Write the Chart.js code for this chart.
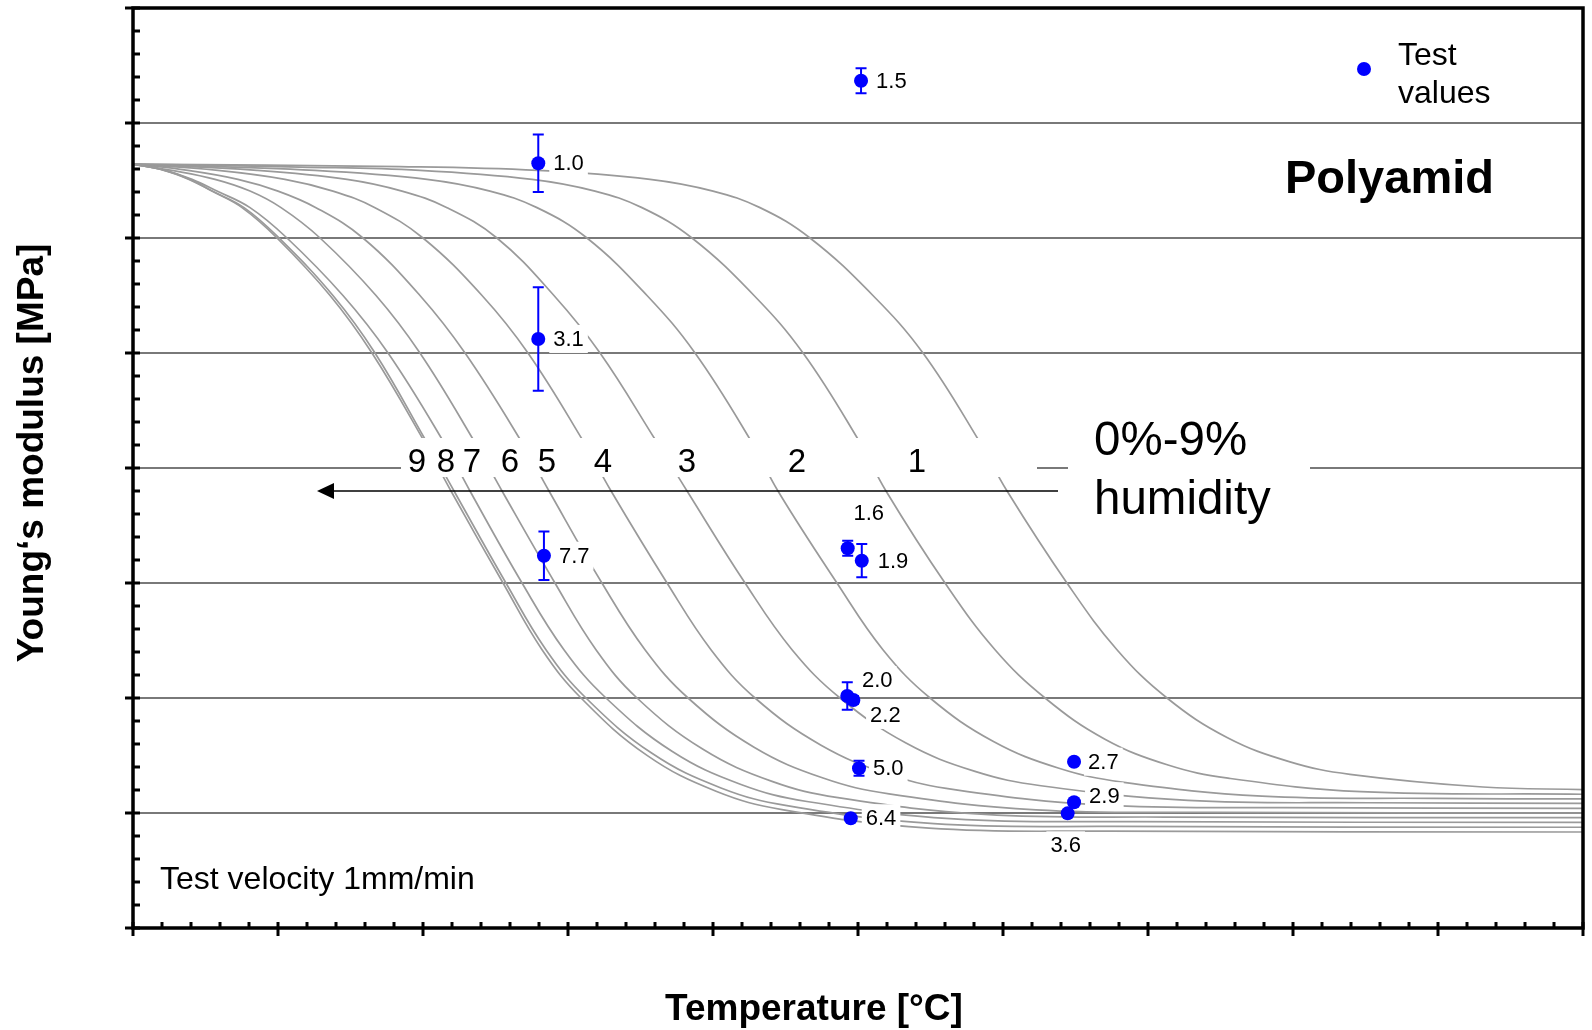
<!DOCTYPE html>
<html>
<head>
<meta charset="utf-8">
<script src="https://cdn.jsdelivr.net/npm/chart.js@4.4.1/dist/chart.umd.min.js"></script>
<style>
    html, body { margin: 0; padding: 0; background: #fff; }
    canvas { display: block; }
</style>
</head>
<body>
<canvas id="chart" width="1592" height="1030"></canvas>
<script>

//
// Data (x: 0..10 major divisions, y: 0..8 major divisions, no tick labels)
//

const curveNames = ["0%", "1%", "2%", "3%", "4%", "5%", "6%", "7%", "8%", "9%"];

const curve0 = [[0, 6.643], [1.841, 6.621], [2.793, 6.588], [3.566, 6.51], [4.0, 6.408], [4.324, 6.264], [4.669, 6.0], [5.103, 5.5], [5.448, 5.0], [5.828, 4.25], [6.028, 3.8], [6.441, 3.0], [6.786, 2.42], [7.131, 2.0], [7.545, 1.657], [7.979, 1.445], [8.393, 1.336], [9.31, 1.226], [10, 1.204]];
const curve1 = [[0, 6.643], [1.152, 6.617], [1.979, 6.588], [2.752, 6.51], [3.186, 6.408], [3.51, 6.264], [3.855, 6.0], [4.283, 5.5], [4.621, 5.0], [5.0, 4.25], [5.193, 3.8], [5.6, 3.0], [5.945, 2.42], [6.29, 2.0], [6.703, 1.642], [7.138, 1.417], [7.552, 1.303], [8.469, 1.186], [10, 1.163]];
const curve2 = [[0, 6.643], [1.255, 6.588], [2.028, 6.51], [2.462, 6.408], [2.786, 6.264], [3.131, 6.0], [3.545, 5.5], [3.876, 5.0], [4.255, 4.25], [4.448, 3.8], [4.855, 3.0], [5.172, 2.42], [5.497, 2.0], [5.931, 1.624], [6.386, 1.389], [6.821, 1.269], [7.786, 1.147], [8.972, 1.127], [10, 1.122]];
const curve3 = [[0, 6.643], [0.855, 6.588], [1.476, 6.51], [1.855, 6.408], [2.166, 6.264], [2.51, 6.0], [2.903, 5.5], [3.221, 5.0], [3.6, 4.25], [3.821, 3.8], [4.221, 3.0], [4.545, 2.42], [4.876, 2.0], [5.331, 1.608], [5.807, 1.362], [6.262, 1.237], [7.276, 1.11], [8.517, 1.089], [10, 1.084]];
const curve4 = [[0, 6.643], [0.586, 6.588], [1.048, 6.51], [1.379, 6.408], [1.669, 6.264], [2.0, 6.0], [2.407, 5.5], [2.724, 5.0], [3.097, 4.25], [3.297, 3.8], [3.683, 3.0], [3.986, 2.42], [4.29, 2.0], [4.745, 1.59], [5.221, 1.333], [5.676, 1.201], [6.69, 1.068], [7.931, 1.047], [10, 1.041]];
const curve5 = [[0, 6.643], [0.379, 6.588], [0.724, 6.51], [1.0, 6.408], [1.262, 6.264], [1.586, 6.0], [1.979, 5.5], [2.29, 5.0], [2.669, 4.25], [2.869, 3.8], [3.234, 3.0], [3.531, 2.42], [3.828, 2.0], [4.283, 1.572], [4.759, 1.304], [5.214, 1.167], [6.228, 1.028], [7.469, 1.006], [10, 1.0]];
const curve6 = [[0, 6.643], [0.269, 6.588], [0.566, 6.51], [0.807, 6.408], [1.021, 6.264], [1.29, 6.0], [1.676, 5.5], [1.979, 5.0], [2.345, 4.25], [2.545, 3.8], [2.91, 3.0], [3.193, 2.42], [3.476, 2.0], [3.931, 1.554], [4.407, 1.275], [4.862, 1.133], [5.876, 0.988], [7.117, 0.965], [10, 0.959]];
const curve7 = [[0, 6.643], [0.221, 6.588], [0.407, 6.51], [0.579, 6.408], [0.807, 6.264], [1.062, 6.0], [1.448, 5.5], [1.759, 5.0], [2.131, 4.25], [2.324, 3.8], [2.683, 3.0], [2.972, 2.42], [3.262, 2.0], [3.717, 1.537], [4.193, 1.248], [4.648, 1.1], [5.662, 0.949], [6.903, 0.925], [10, 0.919]];
const curve8 = [[0, 6.643], [0.214, 6.588], [0.386, 6.51], [0.545, 6.408], [0.766, 6.264], [1.007, 6.0], [1.379, 5.5], [1.669, 5.0], [2.014, 4.25], [2.214, 3.8], [2.572, 3.0], [2.848, 2.42], [3.124, 2.0], [3.579, 1.519], [4.055, 1.218], [4.51, 1.064], [5.524, 0.907], [6.766, 0.883], [10, 0.876]];
const curve9 = [[0, 6.643], [0.221, 6.588], [0.393, 6.51], [0.545, 6.408], [0.752, 6.264], [0.993, 6.0], [1.359, 5.5], [1.648, 5.0], [2.0, 4.25], [2.193, 3.8], [2.552, 3.0], [2.821, 2.42], [3.09, 2.0], [3.545, 1.501], [4.021, 1.189], [4.476, 1.03], [5.49, 0.868], [6.731, 0.842], [10, 0.835]];

const curves = [curve0, curve1, curve2, curve3, curve4, curve5, curve6, curve7, curve8, curve9];

const testX = [5.021, 2.795, 2.795, 2.834, 4.929, 5.026, 4.926, 4.968, 5.007, 4.950, 6.490, 6.490, 6.446];
const testY = [7.368, 6.650, 5.122, 3.237, 3.302, 3.194, 2.017, 1.983, 1.389, 0.954, 1.446, 1.093, 0.997];
const testErr = [0.109, 0.25, 0.45, 0.21, 0.065, 0.145, 0.119, 0.035, 0.065, 0, 0, 0, 0];
const testLabels = ["1.5", "1.0", "3.1", "7.7", "1.6", "1.9", "2.0", "2.2", "5.0", "6.4", "2.7", "2.9", "3.6"];

const bandNumbers = ["9", "8", "7", "6", "5", "4", "3", "2", "1"];

//
// Layout (pixels)
//

const FONT = "'Liberation Sans', Arial, sans-serif";

// [align, dx, dy] relative to the point
const labelPlacement = [
    ["left", 15, 0], ["left", 15, 0], ["left", 15, 0], ["left", 15, 0],
    ["center", 21, -35], ["left", 16, 0], ["center", 30, -16], ["center", 32, 15],
    ["left", 14, 0], ["left", 15, 0], ["left", 14, 0], ["left", 15, -6],
    ["center", -2, 32]
];

const bandNumberX = [417, 446, 472, 510, 547, 603, 687, 797, 917];

//
// Plugins
//

const gridPlugin = {
    id: "hGrid",

    beforeDatasetsDraw(chart) {
        const { ctx, chartArea: { left, right }, scales: { y } } = chart;
        ctx.save();
        ctx.strokeStyle = "#4d4d4d";
        ctx.lineWidth = 1.3;
        for (let v = 1; v < 8; v++) {
            const py = y.getPixelForValue(v);
            ctx.beginPath();
            ctx.moveTo(left, py);
            ctx.lineTo(right, py);
            ctx.stroke();
        }
        ctx.restore();
    }
};

function labelBox(ctx, i, px, py) {
    const [align, dx, dy] = labelPlacement[i];
    ctx.font = "22px " + FONT;
    const w = ctx.measureText(testLabels[i]).width;
    const x0 = align === "left" ? px + dx : px + dx - w / 2;
    return { x: x0, y: py + dy, w };
}

const boxesPlugin = {
    id: "whiteBoxes",

    // runs right before the test points, after all curves
    beforeDatasetDraw(chart, args) {
        if (args.index !== 0) return;

        const { ctx, scales: { x, y } } = chart;
        ctx.save();
        ctx.fillStyle = "#fff";

        // band with the humidity numbers and the big label
        ctx.fillRect(401, 438, 636, 39);
        ctx.fillRect(1068, 410, 242, 120);

        for (let i = 0; i < testX.length; i++) {
            const b = labelBox(ctx, i, x.getPixelForValue(testX[i]), y.getPixelForValue(testY[i]));
            ctx.fillStyle = "#fff";
            ctx.fillRect(b.x - 4, b.y - 14, b.w + 8, 28);
        }

        // error bars
        ctx.strokeStyle = "#0000ff";
        ctx.lineWidth = 2;
        for (let i = 0; i < testX.length; i++) {
            if (!testErr[i]) continue;
            const px = x.getPixelForValue(testX[i]);
            const top = y.getPixelForValue(testY[i] + testErr[i]);
            const bot = y.getPixelForValue(testY[i] - testErr[i]);
            ctx.beginPath();
            ctx.moveTo(px, top);
            ctx.lineTo(px, bot);
            ctx.moveTo(px - 5.5, top);
            ctx.lineTo(px + 5.5, top);
            ctx.moveTo(px - 5.5, bot);
            ctx.lineTo(px + 5.5, bot);
            ctx.stroke();
        }
        ctx.restore();
    }
};

const decorPlugin = {
    id: "decor",

    afterDraw(chart) {
        const { ctx, chartArea: { left, right, top, bottom }, scales: { x, y } } = chart;
        ctx.save();

        // frame and ticks
        ctx.strokeStyle = "#000";
        ctx.lineWidth = 3.5;
        ctx.strokeRect(left, top, right - left, bottom - top);

        ctx.lineWidth = 3;
        for (let k = 0; k <= 40; k++) {
            const py = y.getPixelForValue(k / 5);
            const major = k % 5 === 0;
            ctx.beginPath();
            ctx.moveTo(major ? left - 8 : left, py);
            ctx.lineTo(left + 7, py);
            ctx.stroke();
        }
        for (let k = 0; k <= 50; k++) {
            const px = x.getPixelForValue(k / 5);
            const major = k % 5 === 0;
            ctx.beginPath();
            ctx.moveTo(px, bottom - 6);
            ctx.lineTo(px, major ? bottom + 8 : bottom);
            ctx.stroke();
        }

        // value labels
        ctx.fillStyle = "#000";
        ctx.textBaseline = "middle";
        ctx.textAlign = "left";
        for (let i = 0; i < testX.length; i++) {
            const b = labelBox(ctx, i, x.getPixelForValue(testX[i]), y.getPixelForValue(testY[i]));
            ctx.fillText(testLabels[i], b.x, b.y + 1);
        }

        // humidity numbers and arrow
        ctx.font = "33px " + FONT;
        ctx.textAlign = "center";
        ctx.textBaseline = "alphabetic";
        bandNumbers.forEach((n, i) => ctx.fillText(n, bandNumberX[i], 472));

        ctx.lineWidth = 1.5;
        ctx.beginPath();
        ctx.moveTo(1058, 491);
        ctx.lineTo(330, 491);
        ctx.stroke();
        ctx.beginPath();
        ctx.moveTo(317, 491);
        ctx.lineTo(334, 483);
        ctx.lineTo(334, 499);
        ctx.closePath();
        ctx.fill();

        ctx.textAlign = "left";
        ctx.font = "47.5px " + FONT;
        ctx.fillText("0%-9%", 1094, 455);
        ctx.fillText("humidity", 1094, 514);

        ctx.font = "bold 47px " + FONT;
        ctx.fillText("Polyamid", 1285, 193);

        ctx.font = "32px " + FONT;
        ctx.fillText("Test velocity 1mm/min", 160, 889);

        // legend
        ctx.fillStyle = "#0000ff";
        ctx.beginPath();
        ctx.arc(1364, 69, 7, 0, Math.PI * 2);
        ctx.fill();
        ctx.fillStyle = "#000";
        ctx.font = "32px " + FONT;
        ctx.textBaseline = "middle";
        ctx.fillText("Test", 1398, 56);
        ctx.fillText("values", 1398, 94);

        // axis titles
        ctx.font = "bold 37px " + FONT;
        ctx.textAlign = "center";
        ctx.fillText("Temperature [°C]", 814, 1010);
        ctx.translate(33, 453);
        ctx.rotate(-Math.PI / 2);
        ctx.fillText("Young‘s modulus [MPa]", 0, 0);

        ctx.restore();
    }
};

//
// Chart
//

const datasets = [{
    label: "Test values",
    data: testX.map((v, i) => ({ x: v, y: testY[i] })),
    showLine: false,
    pointRadius: 7,
    pointBackgroundColor: "#0000ff",
    pointBorderWidth: 0
}];

curves.forEach((c, i) => {
    datasets.push({
        label: curveNames[i],
        data: c.map(p => ({ x: p[0], y: p[1] })),
        borderColor: "#9a9a9a",
        borderWidth: 1.7,
        pointRadius: 0,
        fill: false,
        tension: 0.4
    });
});

new Chart(document.getElementById("chart"), {
    type: "line",
    data: { datasets },
    options: {
        responsive: false,
        animation: false,
        devicePixelRatio: 1,
        parsing: false,
        layout: { padding: { left: 133, right: 9, top: 8, bottom: 102 } },
        scales: {
            x: { type: "linear", min: 0, max: 10, display: false },
            y: { type: "linear", min: 0, max: 8, display: false }
        },
        plugins: {
            legend: { display: false },
            tooltip: { enabled: false }
        }
    },
    plugins: [gridPlugin, boxesPlugin, decorPlugin]
});
</script>
</body>
</html>
